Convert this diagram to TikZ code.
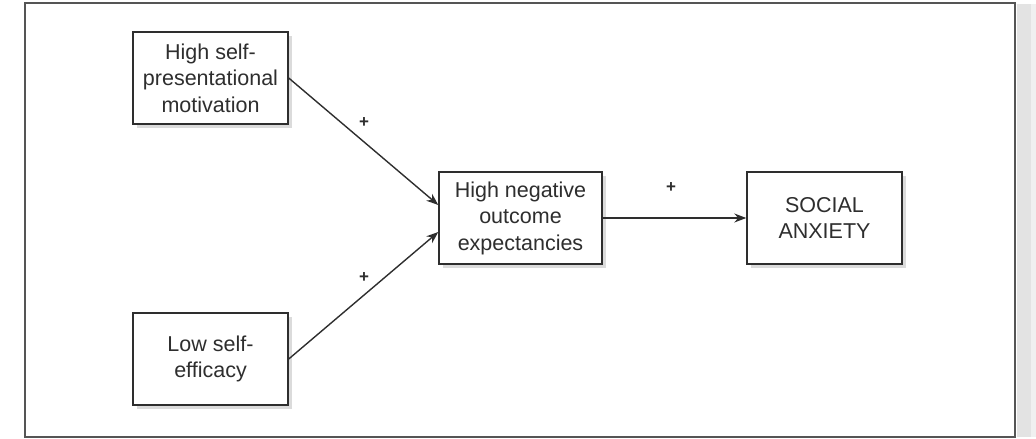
\documentclass[tikz,border=0pt]{standalone}
\usepackage{fontspec}
\setmainfont{Liberation Sans}
\usetikzlibrary{arrows.meta,shadows,calc}
\definecolor{ink}{HTML}{2E2E2E}
\definecolor{framec}{HTML}{555555}
\tikzset{
  boxnode/.style={draw=ink, line width=1.4pt, fill=white, align=center, text=ink,
    font=\fontsize{21.5}{26.5}\selectfont, inner sep=0pt,
    drop shadow={shadow xshift=4pt, shadow yshift=-4pt, fill=gray!35, opacity=0.8}},
  link/.style={draw=ink, line width=1.4pt, -{Stealth[length=12pt,width=9pt]}},
  plus/.style={text=ink, font=\bfseries\fontsize{17}{17}\selectfont, inner sep=0pt}
}
\begin{document}
\begin{tikzpicture}[x=1pt,y=-1pt]
\useasboundingbox (0,0) rectangle (1036,439);
% page shadow on the right
\fill[gray!22] (1017,4) rectangle (1031,437);
\fill[gray!12] (1031,4) rectangle (1036,437);
% outer frame
\draw[framec, line width=2pt] (25,3) rectangle (1015,437);
% nodes
\node[boxnode, minimum width=155pt, minimum height=92pt] (tl) at (210.5,78) {High self-\\presentational\\motivation};
\node[boxnode, minimum width=155pt, minimum height=92pt] (bl) at (210.5,359) {Low self-\\efficacy};
\node[boxnode, minimum width=163pt, minimum height=92pt] (mid) at (520.5,218) {High negative\\outcome\\expectancies};
\node[boxnode, minimum width=155pt, minimum height=92pt] (soc) at (824.5,218) {SOCIAL\\ANXIETY};
% connector ends
\coordinate (midin1) at ($(mid.west)+(0,-13)$);
\coordinate (midin2) at ($(mid.west)+(0,14)$);
% connectors
\draw[link] (tl.east) -- (midin1);
\draw[link] (bl.east) -- (midin2);
\draw[link] (mid.east) -- (soc.west);
% labels
\node[plus] (p1) at (364,123) {+};
\node[plus] (p2) at (364,278) {+};
\node[plus] (p3) at (671,188) {+};
\end{tikzpicture}
\end{document}
